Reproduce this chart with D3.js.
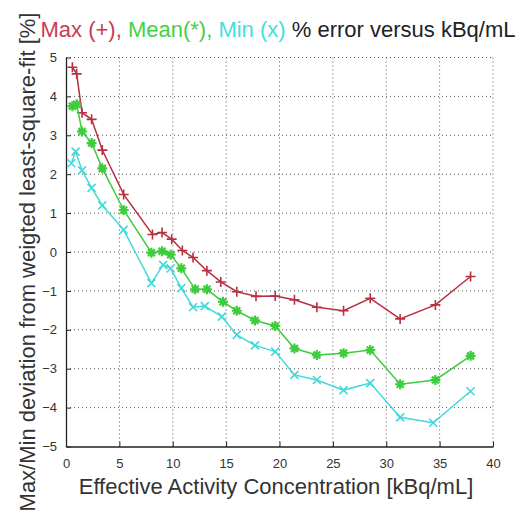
<!DOCTYPE html>
<html><head><meta charset="utf-8">
<script src="https://cdn.jsdelivr.net/npm/d3@7"></script>
<style>body{margin:0;background:#fff;} svg{display:block;font-family:"Liberation Sans",Arial,sans-serif;}</style>
</head><body><svg id="c" width="522" height="523"></svg>
<script>
const maxX = [0.6,1.0,1.5,2.4,3.4,5.4,8.1,9.0,9.9,10.9,11.9,13.2,14.5,16.0,17.8,19.6,21.4,23.5,26.0,28.5,31.3,34.6,37.9];
const maxY = [4.75,4.58,3.58,3.41,2.62,1.48,0.45,0.5,0.33,0.04,-0.14,-0.48,-0.77,-1.02,-1.14,-1.13,-1.23,-1.42,-1.51,-1.19,-1.72,-1.36,-0.63];
const meanX = [0.6,1.0,1.5,2.4,3.4,5.4,8.0,9.0,9.8,10.8,12.1,13.2,14.7,16.0,17.7,19.6,21.4,23.5,26.0,28.5,31.3,34.6,37.9];
const meanY = [3.75,3.8,3.1,2.8,2.15,1.08,-0.02,0.02,-0.07,-0.42,-0.96,-0.96,-1.28,-1.51,-1.76,-1.9,-2.48,-2.65,-2.6,-2.52,-3.4,-3.29,-2.67];
const minX = [0.5,0.9,1.5,2.4,3.4,5.4,8.0,9.1,9.8,10.8,11.9,13.0,14.6,16.0,17.7,19.6,21.4,23.5,26.0,28.5,31.3,34.4,37.9];
const minY = [2.28,2.58,2.1,1.65,1.2,0.57,-0.8,-0.33,-0.42,-0.93,-1.42,-1.39,-1.66,-2.13,-2.4,-2.56,-3.16,-3.29,-3.55,-3.37,-4.25,-4.39,-3.58];
const xTicks = [0,5,10,15,20,25,30,35,40];
const yTicks = [-5,-4,-3,-2,-1,0,1,2,3,4,5];
const xTitle = "Effective Activity Concentration [kBq/mL]";
const yTitle = "Max/Min deviation from weigted least-square-fit [%]";
const titleParts = [["Max (+), ","#c83c4c"],["Mean(*), ","#44d044"],["Min (x)","#44dede"],[" % error versus kBq/mL","#222"]];

const svg = d3.select("#c");
const L=66,R=493,T=57.5,B=446.5;
const x = d3.scaleLinear().domain([0,40]).range([L,R]);
const y = d3.scaleLinear().domain([-5,5]).range([B,T]);

const grid = svg.append("g").attr("stroke","#555").attr("stroke-width",1).attr("stroke-dasharray","1,3");
xTicks.filter(d=>d>0).forEach(d=>grid.append("line").attr("x1",x(d)).attr("x2",x(d)).attr("y1",B).attr("y2",T));
yTicks.filter(d=>d>-5).forEach(d=>grid.append("line").attr("x1",L).attr("x2",R).attr("y1",y(d)).attr("y2",y(d)));

const xa = svg.append("g").attr("transform",`translate(0,${B})`)
  .call(d3.axisBottom(x).tickValues(xTicks).tickSize(-5).tickPadding(12).tickSizeOuter(0));
const ya = svg.append("g").attr("transform",`translate(${L},0)`)
  .call(d3.axisLeft(y).tickValues(yTicks).tickSize(-5).tickPadding(9).tickSizeOuter(0));
[xa,ya].forEach(a=>{a.select(".domain").attr("stroke","#222").attr("stroke-width",1.3);
  a.selectAll(".tick line").attr("stroke","#222");
  a.selectAll("text").attr("font-size",13).attr("fill","#333").attr("font-family","Liberation Sans, Arial, sans-serif");});

const series = [
  {xs:maxX, ys:maxY, color:"#b83040", m:"plus"},
  {xs:meanX, ys:meanY, color:"#3ccc3c", m:"star"},
  {xs:minX, ys:minY, color:"#44d8d8", m:"x"}
];
const mk = {
  plus:"M-5,0H5M0,-5V5",
  x:"M-4,-4L4,4M-4,4L4,-4",
  star:"M-5,0H5M0,-5V5M-3.5,-3.5L3.5,3.5M-3.5,3.5L3.5,-3.5"
};
const line = d3.line().x(d=>x(d[0])).y(d=>y(d[1]));
series.forEach(s=>{
  const pts = s.xs.map((v,i)=>[v,s.ys[i]]);
  svg.append("path").datum(pts).attr("d",line).attr("fill","none").attr("stroke",s.color).attr("stroke-width",1.5);
  svg.append("g").selectAll("path").data(pts).join("path")
    .attr("transform",d=>`translate(${x(d[0])},${y(d[1])})`)
    .attr("d",mk[s.m]).attr("stroke",s.color).attr("stroke-width",s.m==="star"?2.2:1.6).attr("fill","none");
});

const tt = svg.append("text").attr("x",278).attr("y",37).attr("text-anchor","middle").attr("font-size",22);
titleParts.forEach(p=>tt.append("tspan").text(p[0]).attr("fill",p[1]));

svg.append("text").attr("x",276).attr("y",494).attr("text-anchor","middle").attr("font-size",22).attr("fill","#333").text(xTitle);
svg.append("text").attr("transform",`translate(35,262) rotate(-90)`).attr("text-anchor","middle").attr("font-size",22).attr("fill","#333").text(yTitle);
</script></body></html>
